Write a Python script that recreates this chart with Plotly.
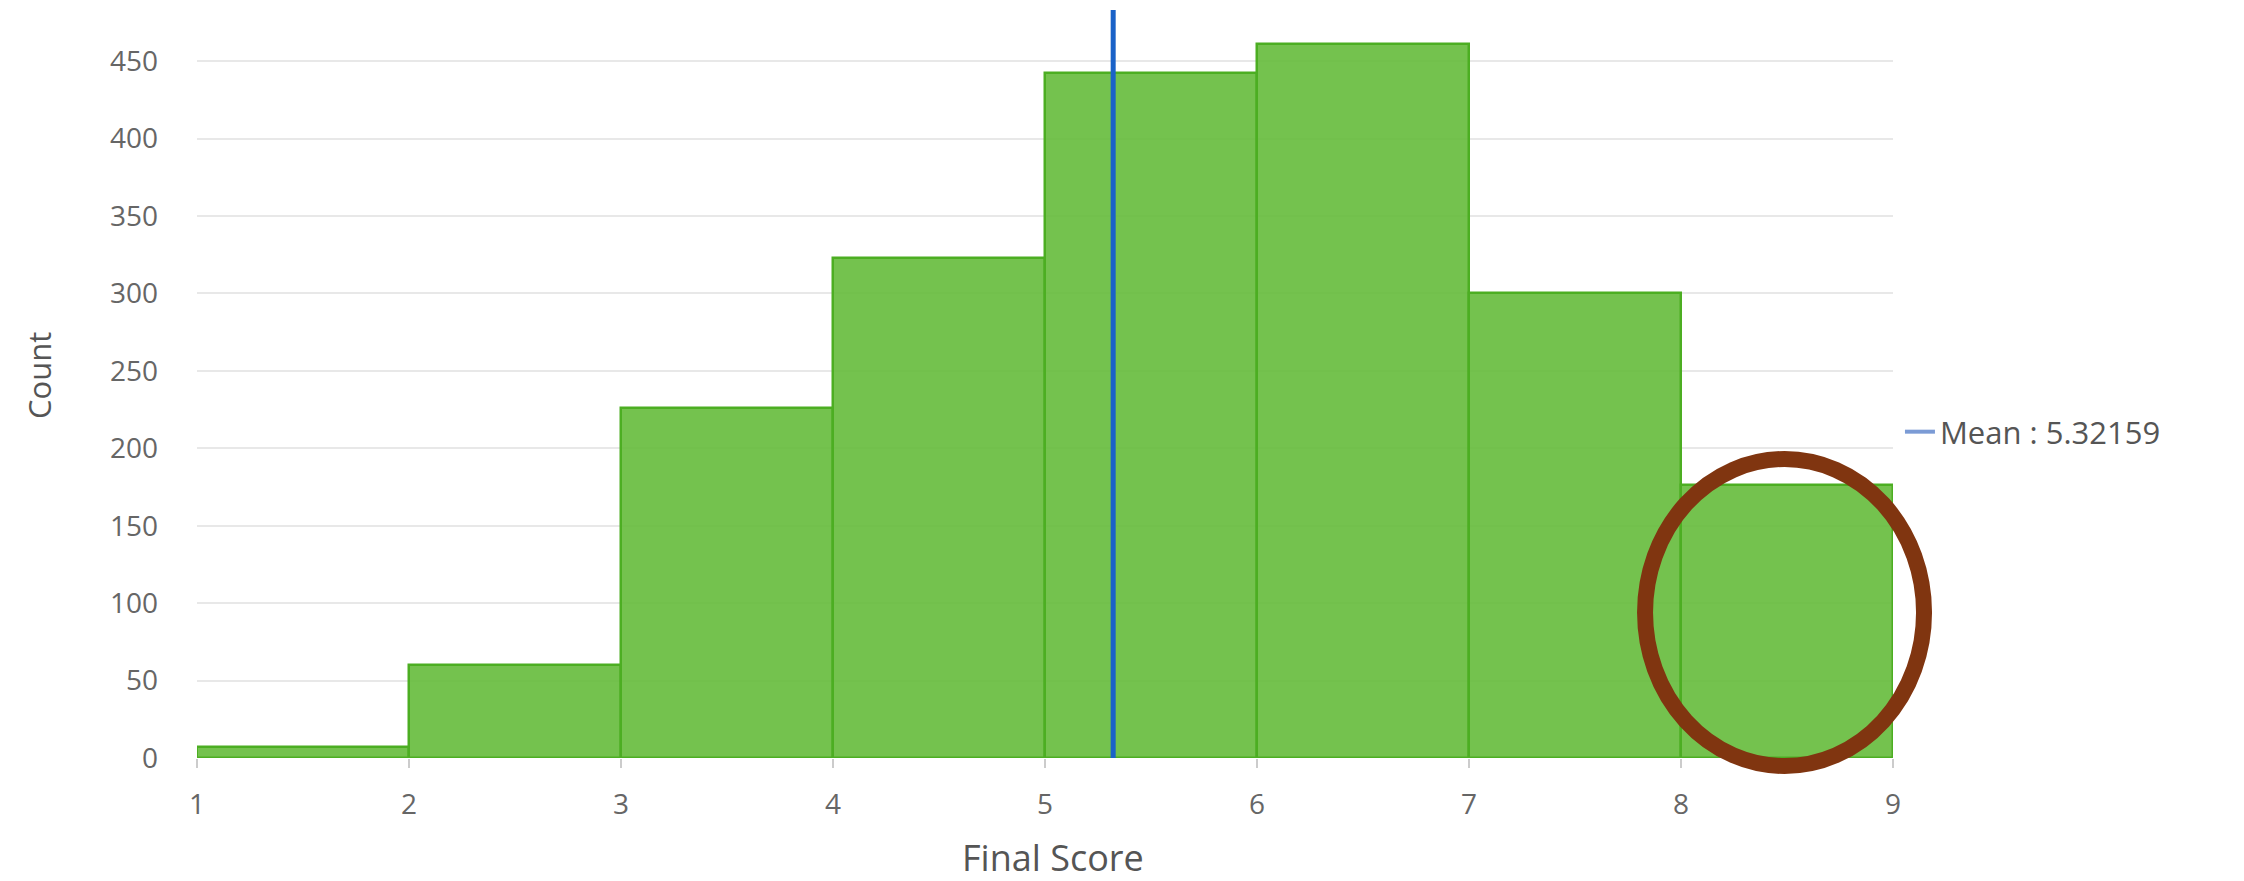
import plotly.graph_objects as go

# ---- data ----
bin_edges = [1, 2, 3, 4, 5, 6, 7, 8, 9]
counts = [7, 60, 226, 323, 442, 461, 300, 176]
mean_value = 5.32159
mean_label = "Mean : 5.32159"
x_title = "Final Score"
y_title = "Count"

centers = [(a + b) / 2 for a, b in zip(bin_edges[:-1], bin_edges[1:])]
widths = [b - a for a, b in zip(bin_edges[:-1], bin_edges[1:])]

FONT = "Open Sans, Segoe UI, sans-serif"

fig = go.Figure()
fig.add_trace(go.Bar(
    x=centers, y=counts, width=widths,
    marker=dict(color="rgba(101,187,59,0.9)",
                line=dict(color="#4cae22", width=2.5)),
    showlegend=False, hoverinfo="x+y",
))

# legend entry for the mean line
fig.add_trace(go.Scatter(
    x=[None], y=[None], mode="lines", name=mean_label,
    line=dict(color="#7b9bd5", width=4), showlegend=True,
))

fig.add_shape(type="line", xref="x", yref="paper",
              x0=mean_value, x1=mean_value, y0=0, y1=1,
              line=dict(color="#1a62c8", width=5), layer="above")

# highlight ellipse overlay
fig.add_shape(type="circle", xref="paper", yref="paper",
              x0=0.8538, x1=1.0183, y0=-0.0107, y1=0.3997,
              line=dict(color="#803510", width=16), layer="above")

# axis titles as annotations for exact placement
fig.add_annotation(text=y_title, xref="paper", yref="paper", x=0, y=0.5,
                   xshift=-158, yshift=8, textangle=-90, showarrow=False,
                   xanchor="center", yanchor="middle",
                   font=dict(size=31, color="#555555"))
fig.add_annotation(text=x_title, xref="paper", yref="paper", x=0.5, y=0,
                   xshift=8, yshift=-99, showarrow=False,
                   xanchor="center", yanchor="middle",
                   font=dict(size=36, color="#555555"))

fig.update_layout(
    width=2244, height=881,
    margin=dict(l=189, r=359, t=2, b=131),
    paper_bgcolor="white", plot_bgcolor="white",
    font=dict(family=FONT, color="#666666", size=28),
    bargap=0,
    legend=dict(x=1.0041, y=0.4358, xanchor="left", yanchor="middle",
                font=dict(size=31, color="#555555"),
                bgcolor="rgba(0,0,0,0)", itemwidth=30),
    xaxis=dict(range=[bin_edges[0], bin_edges[-1]], dtick=1, tick0=1,
               showgrid=False, zeroline=False, showline=False,
               ticks="outside", ticklen=9, tickcolor="#cccccc", tickwidth=2,
               ticklabelstandoff=12,
               tickfont=dict(size=28, color="#666666"), automargin=False),
    yaxis=dict(range=[0, 483], dtick=50, tick0=0,
               showgrid=True, gridcolor="#e8e8e8", gridwidth=2,
               zeroline=False, showline=False,
               ticks="", ticklabelstandoff=38,
               tickfont=dict(size=28, color="#666666"), automargin=False),
)

fig.write_html("out.html")
